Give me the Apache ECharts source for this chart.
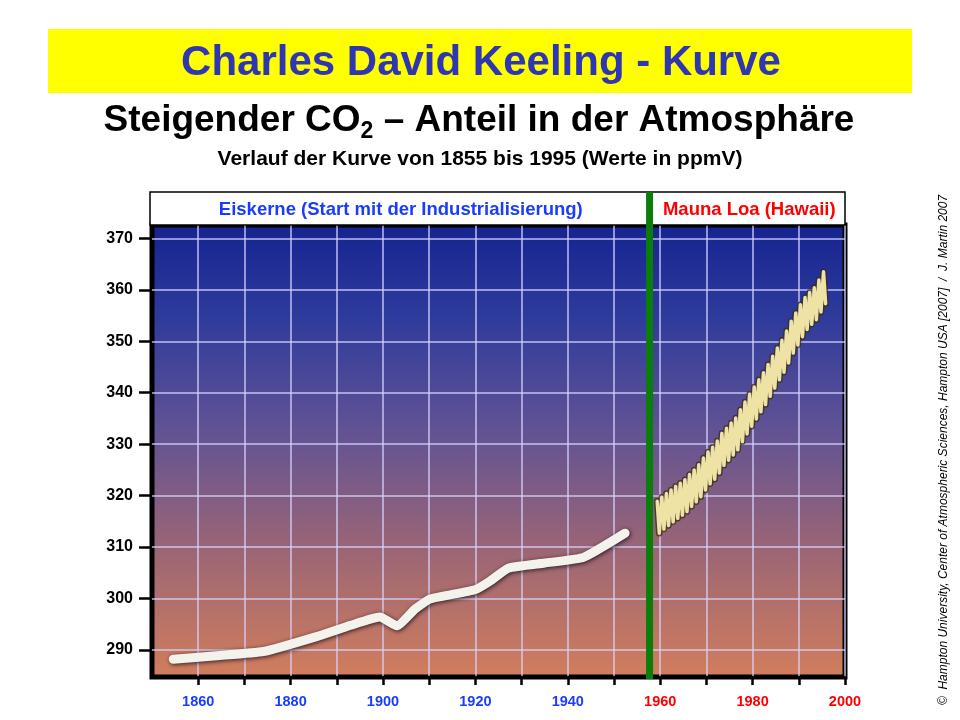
<!DOCTYPE html>
<html><head><meta charset="utf-8">
<script src="https://cdn.jsdelivr.net/npm/echarts@6/dist/echarts.min.js"></script>
<style>html,body{margin:0;padding:0;background:#fff}#c{width:960px;height:720px}</style>
</head><body><div id="c"></div>
<script>
// ---- data ----
const titleText = 'Charles David Keeling - Kurve';
const subtitleText = 'Verlauf der Kurve von 1855 bis 1995 (Werte in ppmV)';
const leftHeader = 'Eiskerne (Start mit der Industrialisierung)';
const rightHeader = 'Mauna Loa (Hawaii)';
const copyrightText = '\u00A9  Hampton University, Center of Atmospheric Sciences, Hampton USA [2007]  /  J. Martin 2007';

const xTickValues = [1860,1870,1880,1890,1900,1910,1920,1930,1940,1950,1960,1970,1980,1990,2000];
const xLabelValues = [1860,1880,1900,1920,1940,1960,1980,2000];
const yTickValues = [290,300,310,320,330,340,350,360,370];
const splitYear = 1957.7;

const iceYears  = [1854.6, 1864, 1874.1, 1885.6, 1893, 1899.3, 1903, 1907, 1910.2, 1919.9, 1923.2, 1927.1, 1935, 1943.4, 1952.4];
const iceValues = [288.2, 288.9, 289.7, 292.6, 294.8, 296.4, 294.7, 298.0, 299.9, 301.7, 303.4, 305.9, 306.9, 308.0, 312.7];

const mlYears = [1959,1960,1961,1962,1963,1964,1965,1966,1967,1968,1969,1970,1971,1972,1973,1974,1975,1976,1977,1978,1979,1980,1981,1982,1983,1984,1985,1986,1987,1988,1989,1990,1991,1992,1993,1994,1995];
const mlPeaks = [318.9,319.7,320.4,321.1,321.8,322.4,323.1,324.1,325.0,326.0,327.3,328.5,329.4,330.6,332.1,333.1,334.1,335.1,336.7,338.2,339.7,341.1,342.5,343.9,345.5,347.1,348.7,350.2,352.0,353.9,355.5,357.1,358.5,359.5,360.4,361.9,363.5];
const mlTroughs = [312.7,313.5,314.2,314.9,315.6,316.2,316.9,317.9,318.8,319.8,321.1,322.3,323.2,324.4,325.9,326.9,327.9,328.9,330.5,332.0,333.5,334.9,336.3,337.7,339.3,340.9,342.5,344.0,345.8,347.7,349.3,350.9,352.3,353.3,354.2,355.7,357.3];

// ---- build ----
const iceData = iceYears.map((y, i) => [y, iceValues[i]]);
const mlData = [];
mlYears.forEach((y, i) => { mlData.push([y + 0.35, mlPeaks[i]]); mlData.push([y + 0.8, mlTroughs[i]]); });

const xMin = 1850, xMax = 2000, yMin = 284.75, yMax = 372.6;
const sans = '"Liberation Sans", Arial, sans-serif';

const chart = echarts.init(document.getElementById('c'), null, {renderer: 'canvas'});
chart.setOption({
  animation: false,
  backgroundColor: '#ffffff',
  grid: {
    left: 152, top: 225, width: 693, height: 452,
    show: true, borderColor: '#000', borderWidth: 5,
    backgroundColor: {type: 'linear', x: 0, y: 0, x2: 0, y2: 1, colorStops: [
      {offset: 0, color: '#14238f'}, {offset: 0.2, color: '#2d3a9c'},
      {offset: 0.45, color: '#605294'}, {offset: 0.7, color: '#986477'},
      {offset: 1, color: '#d27e5c'}]}
  },
  xAxis: {
    type: 'value', min: xMin, max: xMax, interval: 10,
    axisLine: {show: true, lineStyle: {color: '#000', width: 2}},
    axisTick: {show: true, length: 8, customValues: xTickValues, lineStyle: {color: '#000', width: 2.5}},
    axisLabel: {
      customValues: xLabelValues, margin: 17,
      formatter: v => (v < splitYear ? '{b|' + v + '}' : '{r|' + v + '}'),
      rich: {
        b: {color: '#1a3cff', fontSize: 14.5, fontWeight: 'bold', fontFamily: sans},
        r: {color: '#ff0000', fontSize: 14.5, fontWeight: 'bold', fontFamily: sans}
      }
    },
    splitLine: {show: true, lineStyle: {color: 'rgba(215,210,255,0.65)', width: 2}}
  },
  yAxis: {
    type: 'value', min: yMin, max: yMax,
    axisLine: {show: false},
    axisTick: {show: true, length: 13, customValues: yTickValues, lineStyle: {color: '#000', width: 2.5}},
    axisLabel: {customValues: yTickValues, margin: 19, color: '#000', fontSize: 16, fontWeight: 'bold', fontFamily: sans},
    splitLine: {show: true, lineStyle: {color: 'rgba(215,210,255,0.65)', width: 2}}
  },
  series: [
    {
      type: 'line', data: iceData, symbol: 'none', smooth: 0.15, z: 3,
      lineStyle: {color: '#f3f3ec', width: 9, cap: 'round', join: 'round',
        shadowColor: 'rgba(20,10,20,0.85)', shadowBlur: 4, shadowOffsetX: 1, shadowOffsetY: 1}
    },
    {
      type: 'line', data: mlData, symbol: 'none', z: 3,
      lineStyle: {color: '#3b2d1a', width: 6.5, join: 'round', cap: 'round', opacity: 0.75}
    },
    {
      type: 'line', data: mlData, symbol: 'none', z: 4,
      lineStyle: {color: '#eee3a4', width: 3.5, join: 'round', cap: 'round'}
    }
  ]
});

const gx = chart.convertToPixel({xAxisIndex: 0}, splitYear);
const lx = chart.convertToPixel({xAxisIndex: 0}, xMin);
const rx = chart.convertToPixel({xAxisIndex: 0}, xMax);
const by = chart.convertToPixel({yAxisIndex: 0}, yMin);
const ty = chart.convertToPixel({yAxisIndex: 0}, yMax);
const headTop = 192;

chart.setOption({
  graphic: [
    {type: 'rect', shape: {x: 48, y: 29, width: 864, height: 64}, style: {fill: '#ffff00'}, z: 10},
    {type: 'text', x: 481, y: 63, z: 11, style: {text: titleText, fontSize: 42, fontWeight: 'bold', fontFamily: sans,
      fill: '#2e36b2', align: 'center', verticalAlign: 'middle'}},
    {type: 'text', x: 479, y: 121, z: 11, style: {
      text: 'Steigender CO{s|2} \u2013 Anteil in der Atmosph\u00E4re',
      fontSize: 37, fontWeight: 'bold', fontFamily: sans, fill: '#000', align: 'center', verticalAlign: 'middle',
      rich: {s: {fontSize: 23, fontWeight: 'bold', fontFamily: sans, fill: '#000', padding: [22, 0, 0, 0]}}}},
    {type: 'text', x: 480, y: 159, z: 11, style: {text: subtitleText, fontSize: 21, fontWeight: 'bold', fontFamily: sans,
      fill: '#000', align: 'center', verticalAlign: 'middle'}},
    {type: 'rect', shape: {x: lx - 2, y: headTop, width: rx - lx + 2, height: ty - headTop}, z: 10,
      style: {fill: '#fff', stroke: '#000', lineWidth: 1.5}},
    {type: 'text', x: (lx + gx) / 2, y: (headTop + ty) / 2 + 1, z: 11, style: {text: leftHeader, fontSize: 18.5, fontWeight: 'bold',
      fontFamily: sans, fill: '#1a3cff', align: 'center', verticalAlign: 'middle'}},
    {type: 'text', x: (gx + rx) / 2 + 2, y: (headTop + ty) / 2 + 1, z: 11, style: {text: rightHeader, fontSize: 18.5, fontWeight: 'bold',
      fontFamily: sans, fill: '#ff0000', align: 'center', verticalAlign: 'middle'}},
    {type: 'rect', shape: {x: gx - 3.5, y: headTop, width: 7, height: by - headTop + 2}, z: 12, style: {fill: '#0a7d0a'}},
    {type: 'text', x: 944, y: 450, rotation: Math.PI / 2, z: 11, style: {text: copyrightText, fontSize: 12, fontStyle: 'italic',
      fontFamily: sans, fill: '#000', align: 'center', verticalAlign: 'middle'}}
  ]
});
</script>
</body></html>
